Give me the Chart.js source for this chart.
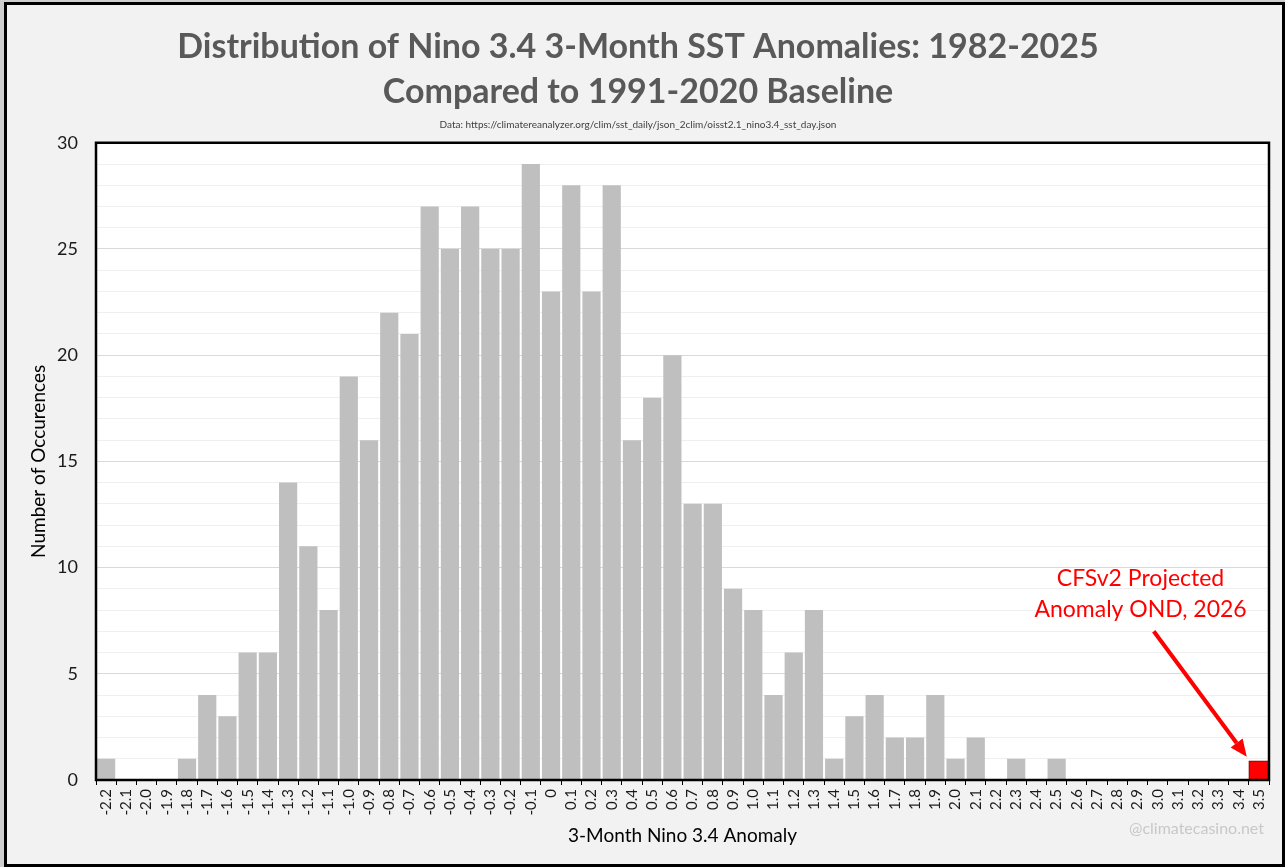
<!DOCTYPE html>
<html>
<head>
<meta charset="utf-8">
<script src="https://cdn.jsdelivr.net/npm/chart.js@4.4.1/dist/chart.umd.min.js"></script>
<style>
  html, body { margin: 0; padding: 0; background: #cfcfcf; }
  #frame {
    position: absolute; left: 4px; top: 2px; width: 1281px; height: 865px;
    box-sizing: border-box; border: 3px solid #000; background: #f2f2f2;
  }
  #wrap { position: absolute; left: 0; top: 0; width: 1275px; height: 859px; }
</style>
</head>
<body>
<div id="frame"><div id="wrap"><canvas id="histChart"></canvas></div></div>
<script>
// Bins of the 3-month Nino 3.4 anomaly (deg C)
const bins = ['-2.2', '-2.1', '-2.0', '-1.9', '-1.8', '-1.7', '-1.6', '-1.5', '-1.4', '-1.3',
  '-1.2', '-1.1', '-1.0', '-0.9', '-0.8', '-0.7', '-0.6', '-0.5', '-0.4', '-0.3',
  '-0.2', '-0.1', '0', '0.1', '0.2', '0.3', '0.4', '0.5', '0.6', '0.7',
  '0.8', '0.9', '1.0', '1.1', '1.2', '1.3', '1.4', '1.5', '1.6', '1.7',
  '1.8', '1.9', '2.0', '2.1', '2.2', '2.3', '2.4', '2.5', '2.6', '2.7',
  '2.8', '2.9', '3.0', '3.1', '3.2', '3.3', '3.4', '3.5'];

// Number of occurences per bin, 1982-2025
const counts = [1, 0, 0, 0, 1, 4, 3, 6, 6, 14,
  11, 8, 19, 16, 22, 21, 27, 25, 27, 25,
  25, 29, 23, 28, 23, 28, 16, 18, 20, 13,
  13, 9, 8, 4, 6, 8, 1, 3, 4, 2,
  2, 4, 1, 2, 0, 1, 0, 1, 0, 0,
  0, 0, 0, 0, 0, 0, 0, 0];

// CFSv2 projection marker (red bar)
const projectedBin = '3.5';
const projectedHeight = 0.9;

const yTicks = [0, 5, 10, 15, 20, 25, 30];

const titleLines = ['Distribution of Nino 3.4 3-Month SST Anomalies: 1982-2025', 'Compared to 1991-2020 Baseline'];
const sourceText = 'Data: https://climatereanalyzer.org/clim/sst_daily/json_2clim/oisst2.1_nino3.4_sst_day.json';
const noteLines = ['CFSv2 Projected', 'Anomaly OND, 2026'];
const watermark = '@climatecasino.net';

const FONT = 'Lato, "Open Sans", sans-serif';

// white plot background
const plotBg = {
  id: 'plotBg',
  beforeDraw(chart) {
    const { ctx, chartArea: a } = chart;
    ctx.save();
    ctx.fillStyle = '#ffffff';
    ctx.fillRect(a.left, a.top, a.right - a.left, a.bottom - a.top);
    ctx.restore();
  }
};

// frame around plot, red note + arrow, watermark
const extras = {
  id: 'extras',
  afterDraw(chart) {
    const { ctx, chartArea: a, scales: { x, y } } = chart;
    const cw = (a.right - a.left) / bins.length;
    ctx.save();
    ctx.strokeStyle = '#000';
    ctx.lineWidth = 2.5;
    ctx.strokeRect(a.left, a.top, a.right - a.left, a.bottom - a.top);

    // note text
    const nx = x.getPixelForValue(bins.indexOf('2.9')) + 3;
    ctx.fillStyle = '#ff0000';
    ctx.font = '23px ' + FONT;
    ctx.textAlign = 'center';
    ctx.textBaseline = 'middle';
    ctx.fillText(noteLines[0], nx, y.getPixelForValue(9.5));
    ctx.fillText(noteLines[1], nx, y.getPixelForValue(8.0));

    // arrow
    const cx = x.getPixelForValue(bins.indexOf(projectedBin));
    const x0 = cx - 5.2 * cw, y0 = y.getPixelForValue(7.0);
    const x1 = cx - 0.6 * cw, y1 = y.getPixelForValue(1.1);
    const ang = Math.atan2(y1 - y0, x1 - x0);
    const hl = 17, hw = 7.5;
    const bx = x1 - hl * Math.cos(ang), by = y1 - hl * Math.sin(ang);
    ctx.strokeStyle = '#ff0000';
    ctx.lineWidth = 4;
    ctx.beginPath();
    ctx.moveTo(x0, y0);
    ctx.lineTo(bx, by);
    ctx.stroke();
    ctx.beginPath();
    ctx.moveTo(x1, y1);
    ctx.lineTo(bx + hw * Math.sin(ang), by - hw * Math.cos(ang));
    ctx.lineTo(bx - hw * Math.sin(ang), by + hw * Math.cos(ang));
    ctx.closePath();
    ctx.fill();

    // watermark
    ctx.fillStyle = '#c8c8c8';
    ctx.font = '16px ' + FONT;
    ctx.textAlign = 'right';
    ctx.fillText(watermark, a.right - 5, a.bottom + 49);
    ctx.restore();
  }
};

const ctx = document.getElementById('histChart').getContext('2d');
new Chart(ctx, {
  type: 'bar',
  data: {
    labels: bins,
    datasets: [{
      label: 'Occurences',
      data: counts,
      backgroundColor: '#bfbfbf',
      barPercentage: 0.9,
      categoryPercentage: 1.0,
      grouped: false,
    }, {
      label: 'Projected',
      data: bins.map(b => (b === projectedBin ? projectedHeight : null)),
      backgroundColor: '#ff0000',
      borderColor: '#7f0000',
      borderWidth: 1,
      barPercentage: 1.0,
      categoryPercentage: 1.0,
      grouped: false,
    }]
  },
  options: {
    responsive: true,
    maintainAspectRatio: false,
    animation: false,
    layout: { padding: { left: 0, right: 13, top: 12, bottom: 0 } },
    plugins: {
      legend: { display: false },
      tooltip: { enabled: false },
      title: {
        display: true,
        text: titleLines,
        color: '#595959',
        font: { family: FONT, size: 34, weight: 'bold', lineHeight: 1.32 },
        padding: { top: 8, bottom: 0 },
      },
      subtitle: {
        display: true,
        text: sourceText,
        color: '#404040',
        font: { family: FONT, size: 10 },
        padding: { top: 4, bottom: 12 },
      }
    },
    scales: {
      x: {
        grid: { display: true, drawOnChartArea: false, drawTicks: true, tickLength: 5, color: '#000', offset: true },
        border: { display: true, color: '#000', width: 2 },
        ticks: {
          color: '#1a1a1a', font: { family: FONT, size: 15 },
          maxRotation: 90, minRotation: 90, autoSkip: false, padding: 4,
        },
        title: {
          display: true, text: '3-Month Nino 3.4 Anomaly', color: '#000',
          font: { family: FONT, size: 19 }, padding: { top: 6, bottom: 17 },
        },
        afterFit(scale) { scale.height = 84; }
      },
      y: {
        min: 0, max: 30,
        grid: {
          drawTicks: false,
          color: c => (yTicks.includes(c.tick.value) ? '#d9d9d9' : '#efefef'),
          lineWidth: 1,
        },
        border: { display: true, color: '#000', width: 2 },
        ticks: {
          stepSize: 1, autoSkip: false, padding: 18,
          color: '#1a1a1a', font: { family: FONT, size: 18 },
          callback: v => (yTicks.includes(v) ? String(v) : ''),
        },
        title: {
          display: true, text: 'Number of Occurences', color: '#000',
          font: { family: FONT, size: 19 }, padding: { top: 20, bottom: 6 },
        },
        afterFit(scale) { scale.width = 89; }
      }
    }
  },
  plugins: [plotBg, extras]
});
</script>
</body>
</html>
